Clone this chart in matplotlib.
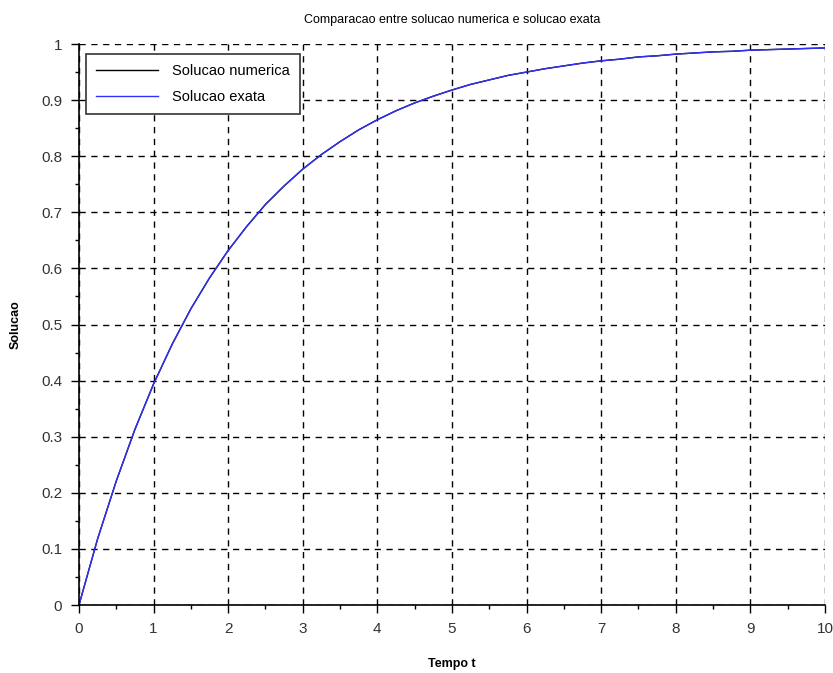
import matplotlib
matplotlib.use("Agg")
from matplotlib import pyplot as plt
from matplotlib.ticker import MultipleLocator

# sample times and solution values
tempo = [0.0, 0.25, 0.5, 0.75, 1.0, 1.25, 1.5, 1.75, 2.0, 2.25, 2.5, 2.75, 3.0, 3.25, 3.5, 3.75,
         4.0, 4.25, 4.5, 4.75, 5.0, 5.25, 5.5, 5.75, 6.0, 6.25, 6.5, 6.75, 7.0, 7.25, 7.5, 7.75,
         8.0, 8.25, 8.5, 8.75, 9.0, 9.25, 9.5, 9.75, 10.0]
sol_numerica = [0.0, 0.118, 0.221, 0.313, 0.394, 0.465, 0.528, 0.583, 0.632, 0.675, 0.714, 0.747,
                0.777, 0.803, 0.826, 0.847, 0.865, 0.881, 0.895, 0.907, 0.918, 0.928, 0.936, 0.944,
                0.950, 0.956, 0.961, 0.966, 0.970, 0.973, 0.977, 0.979, 0.982, 0.984, 0.986, 0.987,
                0.989, 0.990, 0.991, 0.992, 0.993]
sol_exata = [0.0, 0.118, 0.221, 0.313, 0.394, 0.465, 0.528, 0.583, 0.632, 0.675, 0.714, 0.747,
             0.777, 0.803, 0.826, 0.847, 0.865, 0.881, 0.895, 0.907, 0.918, 0.928, 0.936, 0.944,
             0.950, 0.956, 0.961, 0.966, 0.970, 0.973, 0.977, 0.979, 0.982, 0.984, 0.986, 0.987,
             0.989, 0.990, 0.991, 0.992, 0.993]

x_ticks = list(range(0, 11))
y_ticks = [0, 0.1, 0.2, 0.3, 0.4, 0.5, 0.6, 0.7, 0.8, 0.9, 1]
y_labels = ["0", "0.1", "0.2", "0.3", "0.4", "0.5", "0.6", "0.7", "0.8", "0.9", "1"]

plt.rcParams['font.family'] = ['Liberation Sans', 'DejaVu Sans']

fig = plt.figure(figsize=(8.33, 6.73), dpi=100)
axes = fig.add_axes([0.0948, 0.101, 0.8955, 0.8336])

axes.plot(tempo, sol_numerica, color='black', linewidth=1, label='Solucao numerica')
axes.plot(tempo, sol_exata, color='#3030ff', linewidth=1, label='Solucao exata')

axes.set_xlim(0, 10)
axes.set_ylim(0, 1)
axes.set_xticks(x_ticks)
axes.set_yticks(y_ticks)
axes.set_yticklabels(y_labels)
axes.xaxis.set_minor_locator(MultipleLocator(0.5))
axes.yaxis.set_minor_locator(MultipleLocator(0.05))
axes.tick_params(which='major', length=6, width=1, labelsize=11, labelcolor='#333333', pad=6)
axes.tick_params(which='minor', length=3, width=1)

axes.grid(True, which='major', color='black', linestyle=(0, (4.5, 4)), linewidth=1)
axes.set_axisbelow(True)

for side in ('top', 'right'):
    axes.spines[side].set_visible(False)
for side in ('left', 'bottom'):
    axes.spines[side].set_linewidth(1.2)

axes.set_title('Comparacao entre solucao numerica e solucao exata', fontsize=9, pad=15)
axes.set_xlabel('Tempo t', fontsize=9, fontweight='bold', labelpad=16)
axes.set_ylabel('Solucao', fontsize=9, fontweight='bold', labelpad=14)

leg = axes.legend(loc='upper left', bbox_to_anchor=(0.0, 0.995), fontsize=10.5,
                  frameon=True, fancybox=False, edgecolor='#333333', framealpha=1,
                  handlelength=4.2, borderpad=0.7, labelspacing=0.8, handletextpad=1.0)
leg.get_frame().set_linewidth(1.2)

fig.savefig('out.png', dpi=100)
